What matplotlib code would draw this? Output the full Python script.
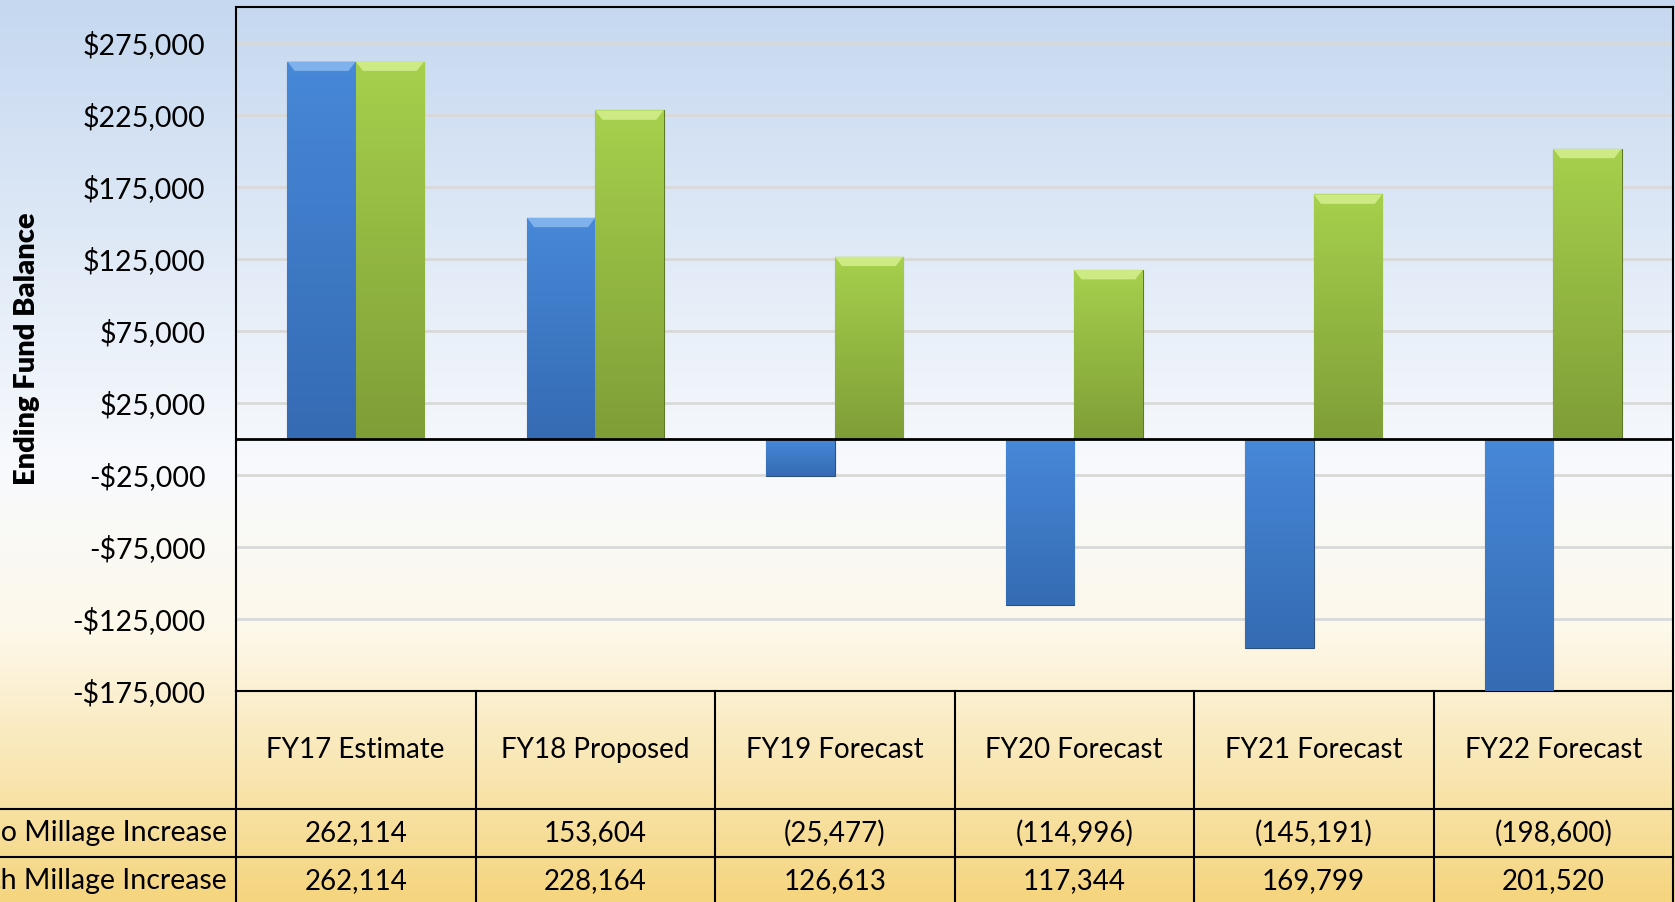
import numpy as np
import matplotlib.pyplot as plt
from matplotlib.colors import LinearSegmentedColormap
from matplotlib.patches import Polygon
from matplotlib.ticker import FuncFormatter, FixedLocator

plt.rcParams['font.family'] = ['Lato', 'DejaVu Sans']

# data
periods = ['FY17 Estimate', 'FY18 Proposed', 'FY19 Forecast', 'FY20 Forecast', 'FY21 Forecast', 'FY22 Forecast']
no_increase = [262114, 153604, -25477, -114996, -145191, -198600]
with_increase = [262114, 228164, 126613, 117344, 169799, 201520]
row_names = ['No Millage Increase', 'With Millage Increase']
y_ticks = [-175000, -125000, -75000, -25000, 25000, 75000, 125000, 175000, 225000, 275000]


def money(v, pos=None):
    return ('-$' if v < 0 else '$') + format(abs(int(v)), ',')


def acct(v):
    return '(' + format(abs(v), ',') + ')' if v < 0 else format(v, ',')


fig = plt.figure(figsize=(16.75, 9.02), dpi=100)

# background gradient over the whole figure
bg = fig.add_axes([0, 0, 1, 1], zorder=-10)
bg_cmap = LinearSegmentedColormap.from_list(
    'bg', [(0, '#c5d8f0'), (0.52, '#f8fafd'), (0.7, '#fdf8ea'), (1.0, '#f5d57e')])
bg.imshow(np.linspace(0, 1, 256).reshape(-1, 1), aspect='auto', cmap=bg_cmap,
          extent=[0, 1, 0, 1])
bg.axis('off')

ax = fig.add_axes([236 / 1675, 1 - 691 / 902, 1437 / 1675, 684 / 902])
ax.patch.set_alpha(0)

ymin, ymax = -175000, 300000
x = np.arange(len(periods))
w = 0.285
blue = ax.bar(x - w / 2, no_increase, w, color='#3f7dcc', zorder=3)
green = ax.bar(x + w / 2, with_increase, w, color='#98c244', zorder=3)

# vertical shading and a light bevel on top of each bar
blue_cmap = LinearSegmentedColormap.from_list('b', ['#356bb3', '#4788d8'])
green_cmap = LinearSegmentedColormap.from_list('g', ['#7f9e37', '#a6d04c'])
grad = np.linspace(0, 1, 100).reshape(-1, 1)
for bars, cm, top_col, edge in [(blue, blue_cmap, '#7fb2ec', '#2d4f80'),
                                (green, green_cmap, '#cdea85', '#5e7a28')]:
    for r in bars:
        x0, y0 = r.get_x(), r.get_y()
        bw, bh = r.get_width(), r.get_height()
        y_lo, y_hi = max(min(y0, y0 + bh), ymin), max(y0, y0 + bh)
        im = ax.imshow(grad, aspect='auto', cmap=cm, origin='lower',
                       extent=[x0, x0 + bw, y_lo, y_hi], zorder=3.5)
        im.set_clip_path(r)
        r.set_edgecolor(edge)
        r.set_linewidth(0.8)
        if bh > 0:
            d = 6500
            ax.add_patch(Polygon([[x0, y_hi], [x0 + bw, y_hi], [x0 + bw - 0.03, y_hi - d],
                                  [x0 + 0.03, y_hi - d]], closed=True,
                                 facecolor=top_col, edgecolor='none', zorder=4))
ax.set_xlim(-0.5, len(periods) - 0.5)
ax.set_ylim(ymin, ymax)

ax.axhline(0, color='black', lw=2, zorder=5)
ax.yaxis.set_major_locator(FixedLocator(y_ticks))
ax.yaxis.set_major_formatter(FuncFormatter(money))
ax.grid(axis='y', color='#d9d9d9', lw=2, zorder=1)
ax.set_xticks([])
ax.tick_params(axis='y', length=0, pad=22, labelsize=20.5)
for s in ax.spines.values():
    s.set_color('black')
    s.set_linewidth(1.5)

fig.text(27 / 1675, 1 - 349 / 902, 'Ending Fund Balance', rotation=90, ha='center',
         va='center', fontsize=21, fontweight='heavy')

# data table under the chart
row_edges = [0, -0.1725, -0.2427, -0.3129]
col_edges = np.linspace(0, 1, len(periods) + 1)
line_kw = dict(color='black', lw=1.5, transform=ax.transAxes, clip_on=False)
for yb in row_edges[1:]:
    ax.plot([-0.3, 1], [yb, yb], **line_kw)
for xc in col_edges:
    ax.plot([xc, xc], [row_edges[0], row_edges[-1]], **line_kw)

for i, p in enumerate(periods):
    cx = (col_edges[i] + col_edges[i + 1]) / 2
    ax.text(cx, (row_edges[0] + row_edges[1]) / 2, p, ha='center', va='center',
            fontsize=20, transform=ax.transAxes)
    for j, vals in enumerate([no_increase, with_increase]):
        ax.text(cx, (row_edges[j + 1] + row_edges[j + 2]) / 2, acct(vals[i]),
                ha='center', va='center', fontsize=20, transform=ax.transAxes)

for j, name in enumerate(row_names):
    ax.text(-0.0063, (row_edges[j + 1] + row_edges[j + 2]) / 2, name, ha='right',
            va='center', fontsize=20.5, transform=ax.transAxes)

fig.savefig('out.png', dpi=100)
